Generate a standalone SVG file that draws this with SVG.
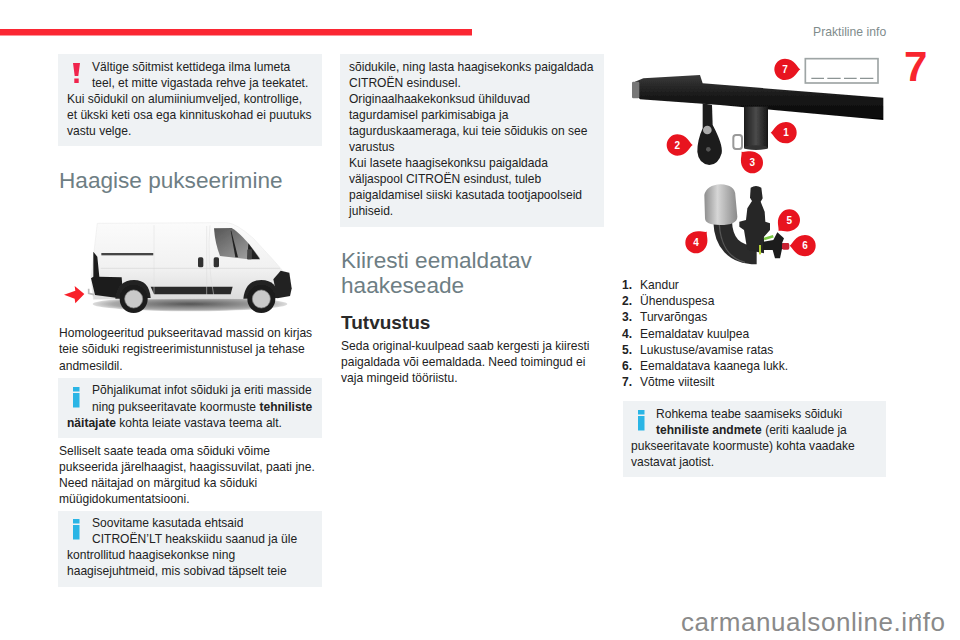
<svg xmlns="http://www.w3.org/2000/svg" width="960" height="640" viewBox="0 0 960 640">
<style>
text{font-family:"Liberation Sans",Arial,sans-serif}
.b{font-size:12.05px;fill:#222}
.h{font-size:22.6px;fill:#6e7e84}
.box{fill:#eff2f4}
.ex{fill:#f0244c}
.inf{fill:#2ab5e5}
.drop{fill:#e8141f}
.n{font-size:30px;font-weight:bold;fill:#fff;text-anchor:middle}
.s{font-weight:bold}
</style>
<defs>
<path id="drop" d="M46,0C36,-6 30,-31 0,-32A32,32 0 1 0 0,32C30,31 36,6 46,0Z"/>
<path id="excl" d="M73,63H80L78.3,76H74.7ZM74.3,78.5H78.7V83H74.3Z"/>
<path id="info" d="M0,0H6.5V4.5H0ZM0,6H6.5V20.5H0Z"/>
<filter id="soft" x="-5%" y="-5%" width="110%" height="110%"><feGaussianBlur stdDeviation="1.6"/></filter>
<linearGradient id="bar" x1="0" y1="0" x2="0" y2="1"><stop offset="0" stop-color="#3a3a3a"/><stop offset=".45" stop-color="#1a1a1a"/><stop offset="1" stop-color="#050505"/></linearGradient>
<linearGradient id="tube" x1="0" y1="0" x2="1" y2="0"><stop offset="0" stop-color="#1c1c1c"/><stop offset=".5" stop-color="#4a4a4a"/><stop offset="1" stop-color="#151515"/></linearGradient>
<linearGradient id="cap" x1="0" y1="0" x2="1" y2="0"><stop offset="0" stop-color="#8e8e8e"/><stop offset=".4" stop-color="#d6d6d6"/><stop offset="1" stop-color="#8a8a8a"/></linearGradient>
<linearGradient id="vanb" x1="0" y1="0" x2="0" y2="1"><stop offset="0" stop-color="#fbfbfb"/><stop offset=".6" stop-color="#f1f1f1"/><stop offset="1" stop-color="#dcdcdc"/></linearGradient>
<radialGradient id="shad"><stop offset="0" stop-color="#555"/><stop offset=".8" stop-color="#aaa"/><stop offset="1" stop-color="#ddd"/></radialGradient>
<linearGradient id="win" x1="0" y1="0" x2="1" y2="1"><stop offset="0" stop-color="#555"/><stop offset="1" stop-color="#aaa"/></linearGradient>
</defs>
<rect width="960" height="640" fill="#fff"/>

<g id="header">
<rect x="0" y="29" width="472" height="6.5" fill="#fb2733"/>
<text x="813" y="35.5" font-size="12.2" fill="#7f8c8c">Praktiline info</text>
<text x="904" y="81" font-size="42" font-weight="bold" fill="#f8252e">7</text>
</g>

<g id="col1">
<rect class="box" x="58" y="54" width="264" height="92"/>
<use href="#excl" class="ex"/>
<text class="b" x="92" y="71">Vältige sõitmist kettidega ilma lumeta</text>
<text class="b" x="92" y="87">teel, et mitte vigastada rehve ja teekatet.</text>
<text class="b" x="67" y="103">Kui sõidukil on alumiiniumveljed, kontrollige,</text>
<text class="b" x="67" y="119">et ükski keti osa ega kinnituskohad ei puutuks</text>
<text class="b" x="67" y="135">vastu velge.</text>

<text class="h" x="59" y="188">Haagise pukseerimine</text>

<g id="van" transform="translate(40,200) scale(.33333)">
<g filter="url(#soft)">
<ellipse cx="450" cy="312" rx="292" ry="22" fill="url(#shad)"/>
<path d="M172,70L560,68Q590,70 640,115L700,180L728,212L745,240L755,265L750,288L700,295L160,298L153,235L162,155Z" fill="url(#vanb)" stroke="#e6e6e6" stroke-width="1.5"/>
<path d="M160,155L172,170L178,230L245,232L250,296L165,285L153,235L160,230Z" fill="#1e1e1e"/>
<path d="M700,238L722,212L748,218L755,265L750,288L712,295Z" fill="#232323"/>
<path d="M522,85L575,84Q610,105 660,175L625,178L540,168Q525,130 522,85Z" fill="url(#win)"/>
<path d="M574,92L594,172L586,172L572,92Z" fill="#222"/>
<path d="M625,130L660,178L622,178Z" fill="#222"/>
<rect x="622" y="148" width="14" height="30" rx="3" fill="#444"/>
<rect x="184" y="159" width="156" height="7" fill="#444"/>
<rect x="474" y="172" width="16" height="30" rx="5" fill="#333"/>
<rect x="521" y="172" width="16" height="30" rx="5" fill="#333"/>
<path d="M332,260H578L572,283H342Z" fill="#2c2c2c"/>
<path d="M342,76V290M500,78V290M510,76Q500,180 522,290" stroke="#ddd" stroke-width="1.5" fill="none"/>
<path d="M182,205H720" stroke="#d5d5d5" stroke-width="2" fill="none"/>
<path d="M226,296Q232,240 282,240Q328,240 332,294Z" fill="#222"/>
<path d="M610,296Q616,240 664,240Q712,240 716,294Z" fill="#222"/>
<circle cx="281" cy="297" r="42" fill="#1c1c1c"/><circle cx="281" cy="297" r="27" fill="#c9c9c9" stroke="#888" stroke-width="2"/>
<circle cx="664" cy="297" r="42" fill="#1c1c1c"/><circle cx="664" cy="297" r="27" fill="#c9c9c9" stroke="#888" stroke-width="2"/>
<path d="M146,266V280L162,284" stroke="#bbb" stroke-width="5" fill="none"/>
</g>
<path d="M72,284L106,272L104,258L133,282L106,310L104,296Z" fill="#f8202a"/>
</g>

<text class="b" x="59" y="337">Homologeeritud pukseeritavad massid on kirjas</text>
<text class="b" x="59" y="353">teie sõiduki registreerimistunnistusel ja tehase</text>
<text class="b" x="59" y="370">andmesildil.</text>

<rect class="box" x="58" y="378" width="264" height="60"/>
<use href="#info" class="inf" x="73" y="387"/>
<text class="b" x="92" y="394">Põhjalikumat infot sõiduki ja eriti masside</text>
<text class="b" x="92" y="411">ning pukseeritavate koormuste <tspan class="s">tehniliste</tspan></text>
<text class="b" x="67" y="427"><tspan class="s">näitajate</tspan> kohta leiate vastava teema alt.</text>

<text class="b" x="59" y="455">Selliselt saate teada oma sõiduki võime</text>
<text class="b" x="59" y="471">pukseerida järelhaagist, haagissuvilat, paati jne.</text>
<text class="b" x="59" y="487">Need näitajad on märgitud ka sõiduki</text>
<text class="b" x="59" y="503">müügidokumentatsiooni.</text>

<rect class="box" x="58" y="511" width="264" height="76"/>
<use href="#info" class="inf" x="73" y="519"/>
<text class="b" x="92" y="527">Soovitame kasutada ehtsaid</text>
<text class="b" x="92" y="543">CITROËN’LT heakskiidu saanud ja üle</text>
<text class="b" x="67" y="559">kontrollitud haagisekonkse ning</text>
<text class="b" x="67" y="575">haagisejuhtmeid, mis sobivad täpselt teie</text>
</g>

<g id="col2">
<rect class="box" x="340" y="54" width="264" height="173"/>
<text class="b" x="349" y="71">sõidukile, ning lasta haagisekonks paigaldada</text>
<text class="b" x="349" y="87">CITROËN esindusel.</text>
<text class="b" x="349" y="103">Originaalhaakekonksud ühilduvad</text>
<text class="b" x="349" y="119">tagurdamisel parkimisabiga ja</text>
<text class="b" x="349" y="135">tagurduskaameraga, kui teie sõidukis on see</text>
<text class="b" x="349" y="151">varustus</text>
<text class="b" x="349" y="167">Kui lasete haagisekonksu paigaldada</text>
<text class="b" x="349" y="183">väljaspool CITROËN esindust, tuleb</text>
<text class="b" x="349" y="199">paigaldamisel siiski kasutada tootjapoolseid</text>
<text class="b" x="349" y="215">juhiseid.</text>

<text class="h" x="341" y="268">Kiiresti eemaldatav</text>
<text class="h" x="341" y="293">haakeseade</text>
<text x="341" y="329" font-size="19" font-weight="bold" fill="#2a2a2a">Tutvustus</text>
<text class="b" x="341" y="350">Seda original-kuulpead saab kergesti ja kiiresti</text>
<text class="b" x="341" y="366">paigaldada või eemaldada. Need toimingud ei</text>
<text class="b" x="341" y="382">vaja mingeid tööriistu.</text>
</g>

<g id="towbar" transform="translate(620,50) scale(.33333)">
<g filter="url(#soft)">
<path d="M45,95L70,85L240,75L248,100L790,143V210L300,165L60,148L40,125Z" fill="url(#bar)"/>
<rect x="36" y="95" width="22" height="50" rx="4" fill="#777"/>
<rect x="372" y="170" width="72" height="125" fill="url(#tube)"/>
<ellipse cx="408" cy="293" rx="36" ry="7" fill="#333"/>
<rect x="340" y="255" width="26" height="42" rx="8" fill="none" stroke="#999" stroke-width="6"/>
<path d="M248,160L276,165L278,225Q310,285 305,310Q295,345 268,345Q235,340 232,305Q232,270 248,235Z" fill="#1b1b1b"/>
<circle cx="262" cy="240" r="13" fill="#aaa"/>
<circle cx="265" cy="298" r="7" fill="#555"/>
<rect x="556" y="26" width="218" height="73" fill="#fff" stroke="#9ea5a5" stroke-width="5"/>
<path d="M574,85H612M622,85H662M672,85H710M720,85H760" stroke="#8c9494" stroke-width="4"/>
</g>
<use href="#drop" class="drop" x="495" y="58"/>
<use href="#drop" class="drop" transform="translate(172,285)"/>
<use href="#drop" class="drop" transform="translate(498,248) rotate(180)"/>
<use href="#drop" class="drop" transform="translate(397,338) rotate(-135)"/>
<text class="n" x="495" y="69">7</text>
<text class="n" x="172" y="296">2</text>
<text class="n" x="498" y="259">1</text>
<text class="n" x="397" y="349">3</text>
</g>

<g id="ball" transform="translate(660,175) scale(.33333)">
<g filter="url(#soft)">
<path d="M188,140C190,200 220,240 290,240" fill="none" stroke="#2b2b2b" stroke-width="56"/>
<path d="M178,150C182,205 205,250 255,262" fill="none" stroke="#555" stroke-width="4"/>
<path d="M272,38Q288,28 304,38L308,70L302,80L314,110L316,140L330,145L330,165L312,185L312,235L262,225L252,165L238,155L238,140L258,135L262,100L276,78L270,68Z" fill="#262626"/>
<path d="M312,192L340,184" stroke="#7ac943" stroke-width="8"/>
<path d="M300,210V238" stroke="#b5d334" stroke-width="6"/>
<path d="M310,200L340,195L352,172L372,190L366,205H385V222H366L360,250L345,250L338,225L310,225Z" fill="#1d1d1d"/>
<rect x="366" y="204" width="22" height="20" rx="5" fill="#c82032"/>
<path d="M133,60Q140,30 182,28Q225,30 226,60L232,125Q232,150 180,150Q135,150 135,130Z" fill="url(#cap)"/>
</g>
<use href="#drop" class="drop" transform="translate(388,135) rotate(135)"/>
<use href="#drop" class="drop" transform="translate(108,203) rotate(-45)"/>
<use href="#drop" class="drop" transform="translate(435,212) rotate(180)"/>
<text class="n" x="388" y="146">5</text>
<text class="n" x="108" y="214">4</text>
<text class="n" x="435" y="223">6</text>
</g>

<g id="col3">
<text class="b s" x="622" y="289">1.</text><text class="b" x="640" y="289">Kandur</text>
<text class="b s" x="622" y="305">2.</text><text class="b" x="640" y="305">Ühenduspesa</text>
<text class="b s" x="622" y="321">3.</text><text class="b" x="640" y="321">Turvarõngas</text>
<text class="b s" x="622" y="338">4.</text><text class="b" x="640" y="338">Eemaldatav kuulpea</text>
<text class="b s" x="622" y="354">5.</text><text class="b" x="640" y="354">Lukustuse/avamise ratas</text>
<text class="b s" x="622" y="370">6.</text><text class="b" x="640" y="370">Eemaldatava kaanega lukk.</text>
<text class="b s" x="622" y="386">7.</text><text class="b" x="640" y="386">Võtme viitesilt</text>

<rect class="box" x="623" y="401" width="263" height="76"/>
<use href="#info" class="inf" x="638" y="410"/>
<text class="b" x="656" y="418">Rohkema teabe saamiseks sõiduki</text>
<text class="b" x="656" y="434"><tspan class="s">tehniliste andmete</tspan> (eriti kaalude ja</text>
<text class="b" x="631" y="450">pukseeritavate koormuste) kohta vaadake</text>
<text class="b" x="631" y="466">vastavat jaotist.</text>
</g>

<g id="footer">
<text x="915" y="622" font-size="11" fill="#5f6f6f">9</text>
<rect x="905" y="618" width="30" height="22" fill="#fff"/>
<text x="681" y="631" font-size="26" letter-spacing=".55" fill="#8a8a8a">carmanualsonline.info</text>
</g>
</svg>
